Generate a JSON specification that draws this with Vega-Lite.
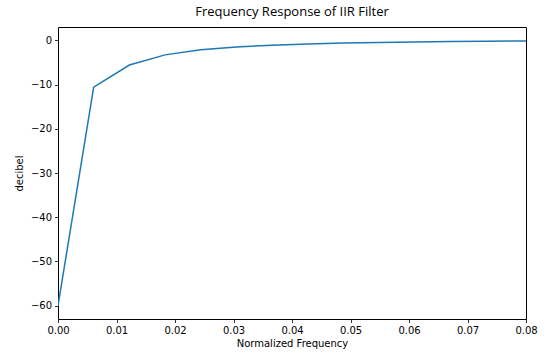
{
  "$schema": "https://vega.github.io/schema/vega-lite/v6.json",
  "width": 468,
  "height": 292,
  "autosize": {"type": "none"},
  "padding": {"left": 58, "top": 27, "right": 23, "bottom": 39},
  "background": "white",
  "title": {
    "text": "Frequency Response of IIR Filter",
    "font": "Open Sans",
    "fontSize": 13,
    "fontWeight": "normal",
    "color": "#000000",
    "anchor": "middle",
    "offset": 8
  },
  "config": {
    "view": {"stroke": "#000000", "strokeWidth": 1},
    "axis": {
      "grid": false,
      "domain": false,
      "tickColor": "#000000",
      "tickSize": 3.5,
      "tickWidth": 0.8,
      "labelFont": "DejaVu Sans",
      "labelFontSize": 10,
      "labelColor": "#000000",
      "titleFont": "DejaVu Sans",
      "titleFontSize": 10,
      "titleFontWeight": "normal",
      "titleColor": "#000000",
      "labelPadding": 3,
      "labelFlush": false,
      "labelOverlap": false
    }
  },
  "data": {
    "values": [
      {"f": 0.0, "db": -60.0},
      {"f": 0.0061, "db": -10.6},
      {"f": 0.0122, "db": -5.6},
      {"f": 0.0183, "db": -3.3},
      {"f": 0.0244, "db": -2.15},
      {"f": 0.0305, "db": -1.5},
      {"f": 0.0366, "db": -1.1},
      {"f": 0.0427, "db": -0.82},
      {"f": 0.0488, "db": -0.62},
      {"f": 0.0549, "db": -0.48},
      {"f": 0.061, "db": -0.38},
      {"f": 0.0671, "db": -0.3},
      {"f": 0.0732, "db": -0.22},
      {"f": 0.0793, "db": -0.16},
      {"f": 0.0854, "db": -0.13}
    ]
  },
  "mark": {"type": "line", "color": "#1f77b4", "strokeWidth": 1.5, "clip": true},
  "encoding": {
    "x": {
      "field": "f",
      "type": "quantitative",
      "scale": {"domain": [0, 0.08], "nice": false, "zero": false},
      "axis": {
        "title": "Normalized Frequency",
        "values": [0, 0.01, 0.02, 0.03, 0.04, 0.05, 0.06, 0.07, 0.08],
        "format": ".2f",
        "titlePadding": 3
      }
    },
    "y": {
      "field": "db",
      "type": "quantitative",
      "scale": {"domain": [-63, 3], "nice": false, "zero": false},
      "axis": {
        "title": "decibel",
        "values": [-60, -50, -40, -30, -20, -10, 0],
        "format": "d",
        "titlePadding": 6
      }
    }
  }
}
